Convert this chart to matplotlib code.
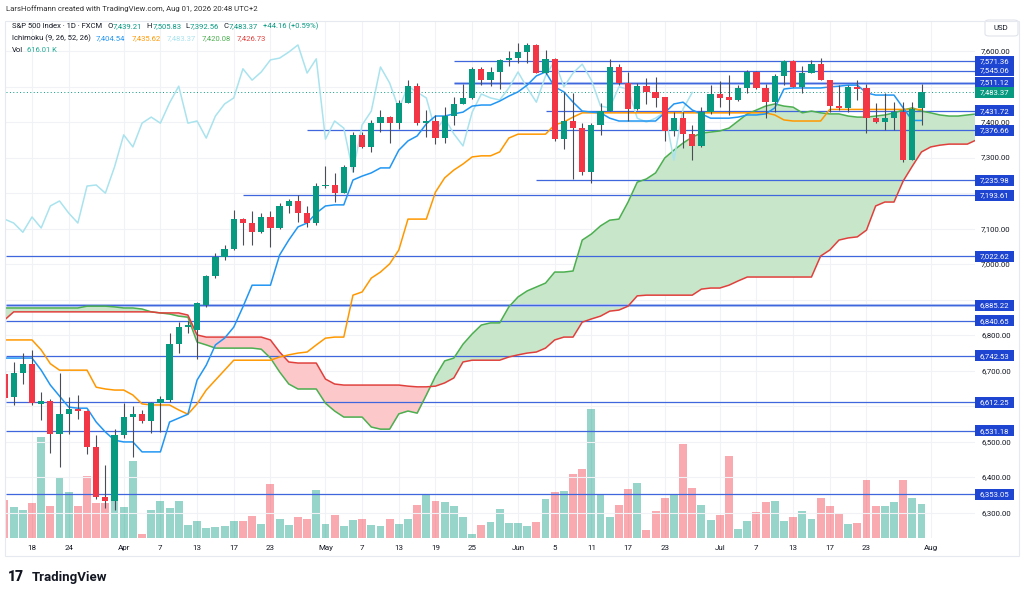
import matplotlib
matplotlib.use('Agg')
import matplotlib.pyplot as plt
import numpy as np
from matplotlib.patches import Rectangle, FancyBboxPatch
from matplotlib.transforms import blended_transform_factory

plt.rcParams['font.family'] = ['Roboto', 'DejaVu Sans']

# ---------------- data (daily bars, Mar 13 .. Jul 31 2026) ----------------
opens = [6690, 6627, 6694, 6719, 6606, 6616, 6522, 6578, 6593, 6587,
         6485, 6345, 6334, 6519, 6570, 6578, 6559, 6609, 6618, 6776,
         6823, 6815, 6885, 6967, 7020, 7043, 7127, 7116, 7090, 7133,
         7102, 7164, 7178, 7144, 7116, 7220, 7223, 7200, 7274, 7364,
         7330, 7397, 7414, 7397, 7454, 7501, 7397, 7403, 7355, 7417,
         7451, 7468, 7550, 7518, 7541, 7575, 7580, 7597, 7617, 7538,
         7578, 7352, 7403, 7383, 7259, 7392, 7431, 7555, 7510, 7437,
         7501, 7484, 7470, 7375, 7411, 7367, 7333, 7428, 7479, 7470,
         7462, 7496, 7541, 7496, 7456, 7530, 7572, 7499, 7538, 7563,
         7518, 7445, 7440, 7499, 7496, 7411, 7400, 7411, 7428, 7293,
         7439.21]
highs = [6700, 6725, 6750, 6759, 6640, 6620, 6694, 6626, 6632, 6590,
         6519, 6435, 6536, 6609, 6601, 6590, 6612, 6628, 6806, 6837,
         6840, 6895, 6970, 7031, 7054, 7153, 7130, 7150, 7144, 7150,
         7172, 7184, 7195, 7164, 7229, 7276, 7257, 7279, 7372, 7372,
         7406, 7434, 7417, 7462, 7518, 7510, 7434, 7420, 7442, 7470,
         7507, 7555, 7555, 7555, 7578, 7600, 7622, 7622, 7620, 7603,
         7580, 7485, 7482, 7397, 7397, 7454, 7578, 7563, 7541, 7510,
         7524, 7527, 7470, 7428, 7428, 7392, 7442, 7504, 7515, 7532,
         7504, 7547, 7544, 7507, 7535, 7575, 7575, 7558, 7575, 7580,
         7518, 7504, 7504, 7518, 7507, 7454, 7482, 7456, 7456, 7456,
         7505.83]
lows = [6610, 6604, 6663, 6604, 6562, 6469, 6429, 6522, 6565, 6466,
        6339, 6314, 6308, 6510, 6457, 6553, 6525, 6527, 6612, 6750,
        6806, 6733, 6880, 6960, 7012, 7040, 7054, 7054, 7088, 7048,
        7098, 7144, 7119, 7105, 7110, 7215, 7175, 7200, 7260, 7327,
        7316, 7372, 7341, 7380, 7454, 7391, 7358, 7338, 7341, 7391,
        7451, 7465, 7504, 7501, 7493, 7558, 7566, 7566, 7538, 7535,
        7347, 7324, 7240, 7251, 7229, 7364, 7431, 7505, 7403, 7434,
        7451, 7442, 7347, 7361, 7327, 7293, 7330, 7423, 7442, 7420,
        7460, 7482, 7493, 7411, 7428, 7504, 7499, 7482, 7538, 7518,
        7428, 7434, 7428, 7462, 7369, 7397, 7378, 7378, 7288, 7293,
        7392.56]
closes = [6623, 6694, 6719, 6609, 6616, 6522, 6578, 6593, 6587, 6485,
          6345, 6334, 6519, 6570, 6578, 6559, 6609, 6621, 6776, 6823,
          6828, 6891, 6967, 7020, 7043, 7127, 7116, 7090, 7133, 7102,
          7164, 7178, 7144, 7116, 7220, 7223, 7200, 7274, 7364, 7330,
          7397, 7414, 7397, 7454, 7501, 7397, 7403, 7355, 7417, 7451,
          7468, 7550, 7518, 7541, 7575, 7580, 7597, 7617, 7538, 7578,
          7352, 7403, 7383, 7259, 7392, 7431, 7555, 7510, 7437, 7501,
          7484, 7468, 7375, 7411, 7367, 7333, 7428, 7479, 7468, 7462,
          7496, 7541, 7496, 7456, 7530, 7572, 7499, 7538, 7563, 7518,
          7445, 7440, 7499, 7493, 7411, 7400, 7411, 7428, 7293, 7437,
          7483.37]
volumes_k = [676, 550, 502, 622, 1806, 574, 1100, 825, 574, 1112,
             622, 622, 861, 550, 1387, 78, 496, 670, 538, 658,
             227, 299, 179, 203, 215, 299, 299, 389, 251, 963,
             347, 239, 383, 341, 867, 251, 413, 209, 323, 347,
             239, 215, 335, 251, 335, 598, 783, 670, 646, 574,
             371, 78, 227, 287, 526, 269, 263, 215, 287, 694,
             825, 843, 1148, 1232, 2320, 777, 371, 586, 879, 981,
             150, 478, 718, 765, 1692, 897, 586, 329, 407, 1465,
             161, 311, 466, 640, 664, 299, 383, 490, 341, 718,
             580, 448, 251, 275, 1046, 580, 580, 646, 1046, 718,
             616.01]
tenkan = [6736, 6736, 6736, 6736, 6702, 6660, 6629, 6598, 6595, 6595,
          6556, 6528, 6505, 6500, 6500, 6472, 6472, 6472, 6556, 6567,
          6578, 6674, 6716, 6773, 6792, 6823, 6880, 6941, 6941, 6941,
          7026, 7068, 7105, 7116, 7144, 7164, 7167, 7167, 7237, 7248,
          7257, 7271, 7271, 7321, 7347, 7361, 7395, 7417, 7417, 7423,
          7428, 7445, 7448, 7448, 7459, 7473, 7485, 7504, 7530, 7541,
          7499, 7485, 7456, 7431, 7428, 7426, 7411, 7403, 7403, 7403,
          7403, 7403, 7426, 7451, 7456, 7434, 7423, 7411, 7411, 7411,
          7414, 7420, 7420, 7423, 7440, 7493, 7496, 7496, 7496, 7496,
          7499, 7501, 7504, 7504, 7482, 7476, 7476, 7476, 7440, 7404.54,
          7404.54]
kijun = [6787, 6787, 6787, 6787, 6759, 6720, 6702, 6702, 6702, 6702,
         6654, 6649, 6646, 6646, 6632, 6607, 6604, 6604, 6604, 6590,
         6578, 6607, 6646, 6674, 6702, 6730, 6730, 6730, 6730, 6730,
         6739, 6745, 6750, 6753, 6773, 6792, 6795, 6795, 6913, 6922,
         6961, 6978, 7001, 7040, 7127, 7127, 7127, 7203, 7243, 7265,
         7282, 7302, 7305, 7305, 7316, 7355, 7366, 7366, 7366, 7366,
         7392, 7400, 7414, 7426, 7426, 7426, 7426, 7426, 7426, 7426,
         7426, 7426, 7426, 7426, 7426, 7426, 7426, 7426, 7426, 7426,
         7426, 7426, 7426, 7426, 7420, 7406, 7403, 7403, 7403, 7403,
         7435.62, 7435.62, 7435.62, 7435.62, 7435.62, 7435.62, 7435.62,
         7435.62, 7435.62, 7435.62, 7435.62]
# leading spans (already displaced forward), bars 0 .. 106
span_a = [6877, 6877, 6877, 6877, 6877, 6877, 6877, 6877, 6877, 6882,
          6882, 6882, 6880, 6877, 6877, 6874, 6866, 6863, 6860, 6854,
          6851, 6781, 6773, 6764, 6764, 6764, 6764, 6764, 6761, 6736,
          6697, 6663, 6649, 6649, 6649, 6609, 6587, 6570, 6570, 6570,
          6542, 6536, 6536, 6579, 6587, 6581, 6632, 6685, 6728, 6736,
          6775, 6804, 6829, 6835, 6835, 6880, 6908, 6925, 6936, 6947,
          6978, 6978, 6981, 7068, 7085, 7108, 7124, 7127, 7175, 7231,
          7240, 7257, 7299, 7321, 7341, 7358, 7369, 7372, 7375, 7383,
          7403, 7423, 7434, 7445, 7451, 7445, 7442, 7426, 7431, 7426,
          7423, 7423, 7417, 7414, 7414, 7417, 7420, 7426, 7434, 7440,
          7431, 7426, 7420, 7417, 7417, 7420, 7423]
span_b = [6843, 6866, 6866, 6866, 6866, 6866, 6866, 6866, 6866, 6866,
          6866, 6866, 6866, 6866, 6866, 6866, 6866, 6863, 6863, 6863,
          6857, 6801, 6795, 6795, 6795, 6795, 6795, 6795, 6795, 6787,
          6753, 6725, 6722, 6722, 6722, 6677, 6663, 6660, 6660, 6660,
          6660, 6660, 6660, 6660, 6657, 6655, 6655, 6657, 6666, 6680,
          6725, 6730, 6730, 6730, 6730, 6739, 6745, 6750, 6753, 6764,
          6787, 6795, 6795, 6837, 6846, 6854, 6868, 6871, 6882, 6911,
          6913, 6913, 6913, 6913, 6913, 6913, 6930, 6933, 6933, 6941,
          6953, 6964, 6964, 6964, 6964, 6964, 6964, 6964, 6964, 7023,
          7040, 7068, 7074, 7077, 7096, 7164, 7175, 7175, 7234, 7276,
          7316, 7330, 7335, 7338, 7338, 7338, 7350]
lag_shift = 25
span_a_now = 7420.08
span_b_now = 7426.73
change_txt = '+44.16 (+0.59%)'

levels = [7571.36, 7545.06, 7511.12, 7431.72, 7376.66, 7235.98, 7193.61,
          7022.62, 6885.22, 6840.65, 6742.53, 6612.25, 6531.18, 6353.05]
level_start = [49, 58, 49, 59, 33, 58, 26, -1, -1, -1, -1, -1, -1, -1]
price_ticks = list(range(6300, 7700, 100))
tick_bars = [3, 7, 13, 17, 21, 25, 29, 35, 39, 43, 47, 51, 56, 60, 64, 68,
             72, 78, 82, 86, 90, 94, 101]
tick_labels = ['18', '24', 'Apr', '7', '13', '17', '23', 'May', '7', '13',
               '19', '25', 'Jun', '5', '11', '17', '23', 'Jul', '7', '13',
               '17', '23', 'Aug']

# ---------------- styling ----------------
UP = '#089981'
DN = '#f23645'
TXT = '#131722'
LVL = '#3f66dd'
BOX = '#1e44d2'

W, H = 1024, 594
fig = plt.figure(figsize=(W / 100, H / 100), dpi=100)
fig.patch.set_facecolor('white')
PL, PR, PT, PB = 6, 975, 22, 538
ax_v = fig.add_axes([PL / W, 1 - PB / H, (PR - PL) / W, (PB - PT) / H])
ax = fig.add_axes([PL / W, 1 - PB / H, (PR - PL) / W, (PB - PT) / H])
ax.patch.set_visible(False)

px_per_price = 0.3554
ymax = 7600 + (51 - PT) / px_per_price
ymin = 7600 - (PB - 51) / px_per_price
bar_px = 9.17
xmin = (PL - 4.5) / bar_px
xmax = (PR - 4.5) / bar_px

for a in (ax, ax_v):
    a.set_xlim(xmin, xmax)
    for s in a.spines.values():
        s.set_visible(False)
    a.set_xticks([])
    a.set_yticks([])
ax.set_ylim(ymin, ymax)

o = np.array(opens); h = np.array(highs); l = np.array(lows); c = np.array(closes)
n = len(c)
x = np.arange(n)
up = c >= o

# grid
for tb in tick_bars:
    ax_v.axvline(tb, color='#f0f2f6', lw=0.8, zorder=0)
for pt in price_ticks:
    ax.axhline(pt, color='#f0f2f6', lw=0.8, zorder=0)

# volume
vol = np.array(volumes_k, dtype=float)
ax_v.bar(x, vol, width=0.86, color=np.where(up, UP, DN), alpha=0.42, lw=0, zorder=1)
vol_px_per_k = 34.33 / 616.01
ax_v.set_ylim(0, (PB - PT) / vol_px_per_k)

# cloud
xs = np.arange(len(span_a))
sa = np.array(span_a, dtype=float); sb = np.array(span_b, dtype=float)
ax.fill_between(xs, sa, sb, where=sa >= sb, interpolate=True, color='#c8e6c9', lw=0, zorder=1)
ax.fill_between(xs, sa, sb, where=sa < sb, interpolate=True, color='#fcc8ca', lw=0, zorder=1)
ax.plot(xs, sa, color='#4caf50', lw=1.1, zorder=3)
ax.plot(xs, sb, color='#e0403c', lw=1.1, zorder=3)

# horizontal levels
for lv, st in zip(levels, level_start):
    x0 = xmin if st < 0 else st
    if lv in (7511.12, 6885.22):
        ax.plot([x0, xmax], [lv, lv], color='#b8c8f4', lw=2.2, zorder=2, solid_capstyle='butt')
    ax.plot([x0, xmax], [lv, lv], color=LVL, lw=0.9, zorder=2.5, solid_capstyle='butt')

# ichimoku lines
ax.plot(x[:n - lag_shift], c[lag_shift:], color='#a9e3ee', lw=1.1, zorder=3)
ax.plot(x, tenkan, color='#2196f3', lw=1.1, zorder=3.2)
ax.plot(x, kijun, color='#ff9800', lw=1.1, zorder=3.1)

# last price dotted
ax.axhline(closes[-1], color=UP, lw=0.7, ls=(0, (1, 2.5)), zorder=2)

# candles
ax.vlines(x, l, h, color='#4a4d57', lw=0.8, zorder=4)
body = np.maximum(np.abs(c - o), 2.5)
ax.bar(x, body, bottom=np.minimum(o, c), width=0.68,
       color=np.where(up, UP, DN), lw=0, zorder=5)

# ---------------- right price scale ----------------
bt = blended_transform_factory(fig.transFigure, ax.transData)
box_levels = levels + [closes[-1]]
for pt in price_ticks:
    near = min(abs(pt - b) for b in box_levels) * px_per_price
    if near < 7:
        continue  # hidden behind a price label, as in TradingView
    ax.text(996 / W, pt, f'{pt:,.2f}', transform=bt, ha='center', va='center',
            fontsize=5.6, color=TXT, clip_on=False, zorder=1)
box_h = 11 / px_per_price
for lv in box_levels:
    colr = UP if lv == closes[-1] else BOX
    ax.add_patch(Rectangle((975 / W, lv - box_h / 2), 39 / W, box_h, transform=bt,
                           facecolor=colr, edgecolor='none', clip_on=False, zorder=10))
    ax.text(994.5 / W, lv, f'{lv:,.2f}', transform=bt, ha='center', va='center',
            fontsize=5.6, color='white', clip_on=False, zorder=11)


def fx(px):
    return px / W


def fy(py):
    return 1 - py / H


fig.patches.append(FancyBboxPatch((fx(985), fy(36)), 33 / W, 16 / H,
                                  boxstyle='round,pad=0,rounding_size=0.004',
                                  transform=fig.transFigure, facecolor='white',
                                  edgecolor='#e0e3eb', lw=0.8))
fig.text(fx(1001), fy(28), 'USD', ha='center', va='center', fontsize=5.6, color=TXT)

# panel border
fig.patches.append(Rectangle((fx(5), fy(556)), 1014 / W, 535 / H, transform=fig.transFigure,
                             fill=False, edgecolor='#e6e9ef', lw=0.8))

# date labels
bx = blended_transform_factory(ax.transData, fig.transFigure)
for tb, tl in zip(tick_bars, tick_labels):
    ax.text(tb, fy(548), tl, transform=bx, ha='center', va='center', fontsize=5.8,
            color=TXT, clip_on=False)

# ---------------- header ----------------
renderer = fig.canvas.get_renderer()
HF = 5.5


def seq(items, py, px0):
    xp = px0
    for t, col, gap in items:
        tx = fig.text(fx(xp), fy(py), t, ha='left', va='center', fontsize=HF, color=col)
        bb = tx.get_window_extent(renderer)
        xp += bb.width + gap


fig.text(fx(6), fy(9), 'LarsHoffmann created with TradingView.com, Aug 01, 2026 20:48 UTC+2',
         ha='left', va='center', fontsize=5.6, color='#333333')
seq([('S&P 500 Index · 1D · FXCM', TXT, 5), ('O', TXT, 0.5), (f'{opens[-1]:,.2f}', UP, 4),
     ('H', TXT, 0.5), (f'{highs[-1]:,.2f}', UP, 4), ('L', TXT, 0.5), (f'{lows[-1]:,.2f}', UP, 4),
     ('C', TXT, 0.5), (f'{closes[-1]:,.2f}', UP, 5), (change_txt, UP, 0)], 26, 12)
seq([('Ichimoku (9, 26, 52, 26)', TXT, 5), (f'{tenkan[-1]:,.2f}', '#2196f3', 6),
     (f'{kijun[-1]:,.2f}', '#ff9800', 6), (f'{closes[-1]:,.2f}', '#a9e3ee', 6),
     (f'{span_a_now:,.2f}', '#4caf50', 6), (f'{span_b_now:,.2f}', '#e0403c', 0)], 38, 12)
seq([('Vol', TXT, 4), (f'{volumes_k[-1]:.2f} K', '#22ab94', 0)], 50, 12)

# footer logo
fig.text(fx(8), fy(577), '17', ha='left', va='center', fontsize=10, fontweight='black', color='#131722')
fig.text(fx(32), fy(577), 'TradingView', ha='left', va='center', fontsize=9.5,
         fontweight='bold', color='#131722')

fig.savefig('out.png', dpi=100, facecolor='white')
